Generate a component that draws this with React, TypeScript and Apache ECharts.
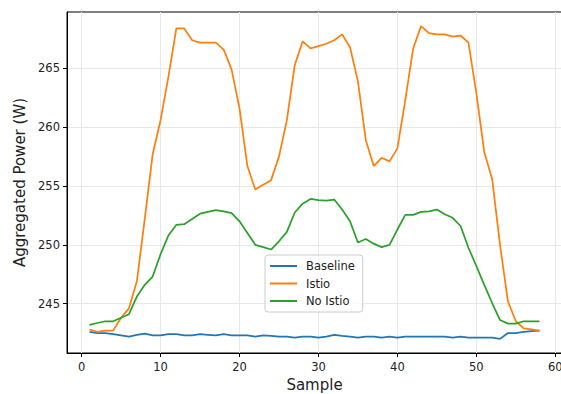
import React, { useEffect, useRef } from "react";
import * as echarts from "echarts";

const samples: number[] = Array.from({ length: 58 }, (_, i) => i + 1);

const baseline: number[] = [
  242.6, 242.5, 242.5, 242.4, 242.3, 242.2, 242.35, 242.45, 242.3, 242.3,
  242.4, 242.4, 242.3, 242.3, 242.4, 242.35, 242.3, 242.4, 242.3, 242.3,
  242.3, 242.2, 242.3, 242.25, 242.2, 242.2, 242.1, 242.2, 242.2, 242.1,
  242.2, 242.35, 242.25, 242.2, 242.1, 242.2, 242.2, 242.1, 242.2, 242.1,
  242.2, 242.2, 242.2, 242.2, 242.2, 242.2, 242.1, 242.2, 242.1, 242.1,
  242.1, 242.1, 242.0, 242.5, 242.5, 242.6, 242.65, 242.7,
];

const istio: number[] = [
  242.8, 242.6, 242.7, 242.7, 243.8, 244.6, 246.9, 252.2, 257.7, 260.6,
  264.3, 268.4, 268.4, 267.4, 267.2, 267.2, 267.2, 266.6, 264.9, 261.6,
  256.7, 254.7, 255.1, 255.5, 257.5, 260.6, 265.3, 267.3, 266.7, 266.9,
  267.1, 267.4, 267.9, 266.8, 263.9, 258.9, 256.7, 257.4, 257.1, 258.2,
  262.3, 266.7, 268.6, 268.0, 267.9, 267.9, 267.7, 267.8, 267.2, 262.9,
  257.9, 255.6, 250.0, 245.2, 243.5, 242.9, 242.8, 242.7,
];

const noIstio: number[] = [
  243.2, 243.35, 243.5, 243.5, 243.8, 244.1, 245.6, 246.6, 247.3, 249.2,
  250.8, 251.7, 251.75, 252.2, 252.65, 252.8, 252.95, 252.85, 252.7, 252.0,
  251.0, 250.0, 249.8, 249.6, 250.3, 251.1, 252.75, 253.5, 253.9, 253.8,
  253.75, 253.85, 253.0, 252.0, 250.2, 250.5, 250.1, 249.8, 250.0, 251.3,
  252.55, 252.55, 252.8, 252.85, 253.0, 252.6, 252.3, 251.6, 249.75, 248.2,
  246.6, 245.05, 243.6, 243.3, 243.3, 243.5, 243.5, 243.5,
];

const xTicks: number[] = [0, 10, 20, 30, 40, 50, 60];
const yTicks: number[] = [245, 250, 255, 260, 265];

const seriesNames = ["Baseline", "Istio", "No Istio"];
const seriesColors = ["#1f77b4", "#ff7f0e", "#2ca02c"];
const seriesValues = [baseline, istio, noIstio];

const FONT = "DejaVu Sans";

export default function App() {
  const ref = useRef<HTMLDivElement>(null);
  useEffect(() => {
    if (!ref.current) return;
    const chart = echarts.init(ref.current, undefined, { renderer: "svg" });
    const gridLine = { show: true, lineStyle: { color: "#e8e8e8", width: 1 } };
    chart.setOption({
      animation: false,
      backgroundColor: "#ffffff",
      grid: {
        left: 67,
        width: 495,
        top: 12,
        height: 341,
        containLabel: false,
        outerBoundsMode: "none",
        show: true,
        borderColor: "#000",
        borderWidth: 1,
        backgroundColor: "transparent",
      },
      legend: {
        orient: "vertical",
        left: 265,
        top: 255,
        itemWidth: 27,
        itemHeight: 14,
        itemGap: 5.5,
        padding: [5, 8, 5, 5],
        borderColor: "#cccccc",
        borderWidth: 1,
        borderRadius: 3,
        backgroundColor: "rgba(255,255,255,0.8)",
        icon: "path://M0 0 H27 V2 H0 Z",
        textStyle: { fontFamily: FONT, fontSize: 11.5, color: "#222", padding: [0, 0, 0, 4] },
        data: seriesNames,
      },
      xAxis: {
        type: "value",
        min: -1.85,
        max: 60.85,
        splitNumber: 6,
        name: "Sample",
        nameLocation: "middle",
        nameGap: 24,
        nameTextStyle: { fontFamily: FONT, fontSize: 15, color: "#222" },
        axisLine: { show: true, onZero: false, lineStyle: { color: "#000", width: 1 } },
        axisTick: { show: true, length: 4, customValues: xTicks, lineStyle: { color: "#000" } },
        axisLabel: {
          customValues: xTicks,
          fontFamily: FONT,
          fontSize: 11.5,
          color: "#222",
          margin: 8,
        },
        splitLine: gridLine,
      },
      yAxis: {
        type: "value",
        min: 240.8,
        max: 269.8,
        splitNumber: 5,
        name: "Aggregated Power (W)",
        nameLocation: "middle",
        nameGap: 40,
        nameTextStyle: { fontFamily: FONT, fontSize: 15, color: "#222" },
        axisLine: { show: true, onZero: false, lineStyle: { color: "#000", width: 1 } },
        axisTick: { show: true, length: 4, customValues: yTicks, lineStyle: { color: "#000" } },
        axisLabel: {
          customValues: yTicks,
          fontFamily: FONT,
          fontSize: 11.5,
          color: "#222",
          margin: 7,
        },
        splitLine: gridLine,
      },
      series: seriesNames.map((name, k) => ({
        name,
        type: "line",
        data: samples.map((s, i) => [s, seriesValues[k][i]]),
        showSymbol: false,
        symbol: "none",
        color: seriesColors[k],
        lineStyle: { color: seriesColors[k], width: 1.75 },
        itemStyle: { color: seriesColors[k] },
      })),
    });
    return () => chart.dispose();
  }, []);
  return (
    <div
      ref={ref}
      style={{ position: "fixed", left: 0, top: 0, width: 561, height: 394, background: "#fff" }}
    />
  );
}
